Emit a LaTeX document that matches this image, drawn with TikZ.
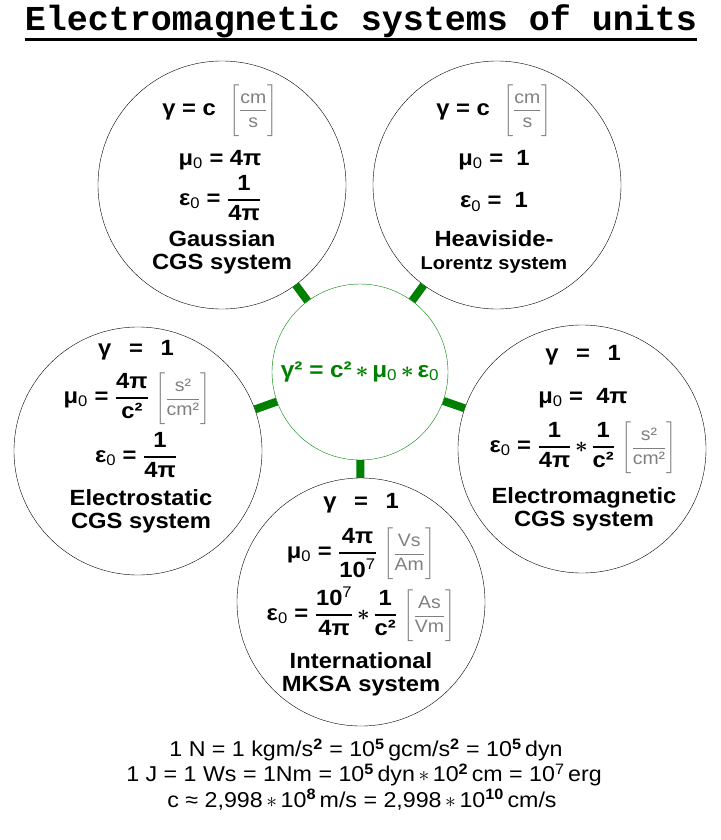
\RequirePackage{fix-cm}
\documentclass[tikz,border=0pt]{standalone}
\usepackage{amsmath}
\usepackage{fontspec}
\setmainfont{Liberation Sans}[FakeStretch=1.08]
\newfontfamily\titelfont{Liberation Mono}
\usepackage{xcolor}
\usepackage{tikz}
\usetikzlibrary{positioning}

\definecolor{gruen}{RGB}{0,128,0}
\definecolor{grau}{RGB}{128,128,128}

\newcommand{\nullsub}{\textsubscript{\mdseries 0}}
\newcommand{\bruch}[2]{$\genfrac{}{}{1.6pt}{0}{\text{#1}}{\text{#2}}$}
\newcommand{\einheit}[2]{{\color{grau}\mdseries\fontsize{18}{21}\selectfont$\Biggl[\genfrac{}{}{1pt}{0}{\text{#1}}{\text{#2}}\Biggr]$}}
\newcommand{\mal}{\,$\boldsymbol{\ast}$\,}
\newcommand{\stern}{\,$\ast$\,}
\newcommand{\hoch}[1]{\textsuperscript{\bfseries #1}}

\tikzset{
  kreis/.style={circle, draw, minimum size=248pt, inner sep=0pt},
  formel/.style={font=\fontsize{22}{23}\selectfont\bfseries, align=center, inner sep=1pt},
  zeile/.style={font=\fontsize{21.5}{25}\selectfont, inner sep=1pt},
  steg/.style={gruen, line width=8pt},
}

\begin{document}
\begin{tikzpicture}[x=1pt, y=-1pt]
  \useasboundingbox (0,0) rectangle (720,840);
  \node[font=\titelfont\bfseries\fontsize{35}{40}\selectfont, inner sep=0pt, anchor=base] (titel) at (361,31) {Electromagnetic systems of units};
  \draw[line width=3pt] ([yshift=-9pt]titel.base west) -- ([yshift=-9pt]titel.base east);

  % Kreise
  \node[circle, draw=gruen, minimum size=176pt, inner sep=0pt, text=gruen, font=\fontsize{22.5}{26}\selectfont\bfseries] (mitte) at (360,372)
    {γ² = c²\mal μ\nullsub\mal ε\nullsub};
  \node[kreis] (gauss) at (222,185) {};
  \node[kreis] (heavi) at (497,185) {};
  \node[kreis] (estat) at (138,451) {};
  \node[kreis] (emag)  at (582,449) {};
  \node[kreis] (mksa)  at (361,602) {};

  % Stege
  \draw[steg] (mitte) -- (gauss);
  \draw[steg] (mitte) -- (heavi);
  \draw[steg] (mitte) -- (estat);
  \draw[steg] (mitte) -- (emag);
  \draw[steg] (mitte) -- (mksa);

  % Gauss
  \node[formel] (g1) at (220,111) {γ = c \ \einheit{cm}{s}};
  \node[formel] (g2) at (220,160) {μ\nullsub\ = 4π};
  \node[formel] (g3) at (220,198) {ε\nullsub\ = \bruch{1}{4π}};
  \node[formel] (g4) at (222,252) {Gaussian\\CGS system};

  % Heaviside-Lorentz
  \node[formel] (h1) at (494,111) {γ = c \ \einheit{cm}{s}};
  \node[formel] (h2) at (494,160) {μ\nullsub\ = \ 1};
  \node[formel] (h3) at (494,202) {ε\nullsub\ = \ 1};
  \node[formel] (h4) at (494,252) {Heaviside-\\{\fontsize{18.5}{23}\selectfont Lorentz system}};

  % elektrostatisch
  \node[formel] (s1) at (136,350) {γ \enspace= \enspace1};
  \node[formel] (s2) at (137,399) {μ\nullsub\ = \bruch{4π}{c²} \einheit{s²}{cm²}};
  \node[formel] (s3) at (136,455) {ε\nullsub\ = \bruch{1}{4π}};
  \node[formel] (s4) at (141,511) {Electrostatic\\CGS system};

  % elektromagnetisch
  \node[formel] (m1) at (583,355) {γ \enspace= \enspace1};
  \node[formel] (m2) at (583,398) {μ\nullsub\ = \ 4π};
  \node[formel] (m3) at (583,448) {ε\nullsub\ = \bruch{1}{4π}\mal\bruch{1}{c²} \einheit{s²}{cm²}};
  \node[formel] (m4) at (584,509) {Electromagnetic\\CGS system};

  % MKSA
  \node[formel] (i1) at (361,503) {γ \enspace= \enspace1};
  \node[formel] (i2) at (361,554) {μ\nullsub\ = \bruch{4π}{10\textsuperscript{\mdseries 7}} \einheit{Vs}{Am}};
  \node[formel] (i3) at (361,615) {ε\nullsub\ = \bruch{10\textsuperscript{\mdseries 7}}{4π}\mal\bruch{1}{c²} \einheit{As}{Vm}};
  \node[formel] (i4) at (361,674) {International\\MKSA system};

  % Einheiten
  \node[zeile] (z1) at (366,750) {1 N = 1 kgm/s\hoch{2} = 10\hoch{5}\,gcm/s\hoch{2} = 10\hoch{5}\,dyn};
  \node[zeile] (z2) at (364,775) {1 J = 1 Ws = 1Nm = 10\hoch{5}\,dyn\stern 10\hoch{2}\,cm = 10\textsuperscript{7}\,erg};
  \node[zeile] (z3) at (362,800) {c ≈ 2,998\stern 10\hoch{8}\,m/s = 2,998\stern 10\hoch{10}\,cm/s};
\end{tikzpicture}
\end{document}
